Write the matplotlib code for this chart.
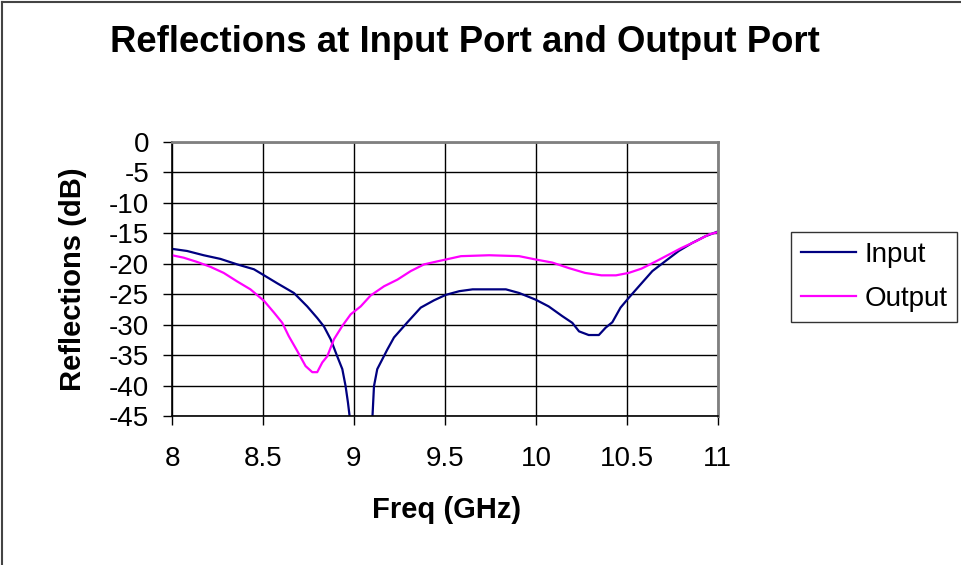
import matplotlib
matplotlib.use("Agg")
import matplotlib.pyplot as plt
from matplotlib.lines import Line2D

plt.rcParams['font.family'] = ['Liberation Sans', 'DejaVu Sans']

# Input port reflection (dB) vs frequency (GHz)
freq_in = [8.0, 8.083, 8.174, 8.266, 8.358, 8.45, 8.506, 8.578, 8.67, 8.743,
           8.798, 8.835, 8.872, 8.908, 8.936, 8.954, 8.967, 8.978, 9.04, 9.101,
           9.11, 9.128, 9.183, 9.22, 9.294, 9.367, 9.44, 9.505, 9.579, 9.652,
           9.835, 9.908, 9.999, 10.07, 10.145, 10.20, 10.237, 10.29, 10.346, 10.383,
           10.42, 10.465, 10.51, 10.566, 10.64, 10.71, 10.785, 10.858, 10.93, 11.0]
s11 = [-17.55, -17.9, -18.6, -19.2, -20.1, -20.9, -21.9, -23.2, -24.8, -27.0,
       -28.9, -30.3, -32.4, -35.2, -37.3, -40.1, -42.8, -45.5, -60.0, -45.5,
       -40.1, -37.3, -34.1, -32.1, -29.6, -27.2, -26.0, -25.1, -24.5, -24.2,
       -24.2, -24.8, -25.9, -27.0, -28.6, -29.7, -31.1, -31.7, -31.7, -30.5,
       -29.6, -27.2, -25.6, -23.7, -21.2, -19.6, -17.9, -16.6, -15.5, -14.7]

# Output port reflection (dB) vs frequency (GHz)
freq_out = [8.0, 8.064, 8.138, 8.211, 8.284, 8.358, 8.431, 8.506, 8.56, 8.606,
            8.642, 8.688, 8.734, 8.771, 8.798, 8.826, 8.853, 8.89, 8.936, 8.982,
            9.037, 9.092, 9.165, 9.239, 9.312, 9.385, 9.459, 9.505, 9.588, 9.743,
            9.908, 9.999, 10.09, 10.18, 10.27, 10.36, 10.44, 10.51, 10.58, 10.66,
            10.73, 10.80, 10.88, 10.95, 11.0]
s22 = [-18.6, -19.0, -19.7, -20.5, -21.5, -22.9, -24.2, -26.1, -28.0, -29.7,
       -31.9, -34.3, -36.8, -37.8, -37.8, -36.2, -35.2, -32.4, -30.2, -28.3,
       -27.0, -25.2, -23.7, -22.6, -21.2, -20.1, -19.6, -19.3, -18.75, -18.6,
       -18.75, -19.3, -19.8, -20.7, -21.5, -21.9, -21.9, -21.5, -20.8, -19.6,
       -18.5, -17.4, -16.3, -15.2, -14.8]

x_ticks = [8, 8.5, 9, 9.5, 10, 10.5, 11]
x_labels = ['8', '8.5', '9', '9.5', '10', '10.5', '11']
y_ticks = [0, -5, -10, -15, -20, -25, -30, -35, -40, -45]
y_labels = ['0', '-5', '-10', '-15', '-20', '-25', '-30', '-35', '-40', '-45']

fig = plt.figure(figsize=(9.61, 5.65), dpi=100)
ax = fig.add_axes([0.179, 0.2637, 0.568, 0.485])

ax.plot(freq_in, s11, color='#000080', lw=1.6, label='Input')
ax.plot(freq_out, s22, color='#FF00FF', lw=1.6, label='Output')

ax.set_xlim(8, 11)
ax.set_ylim(-45, 0)
ax.set_xticks(x_ticks)
ax.set_xticklabels(x_labels)
ax.set_yticks(y_ticks)
ax.set_yticklabels(y_labels)
ax.tick_params(labelsize=20, length=6.5, width=1, direction='out')
ax.tick_params(axis='x', pad=15)
ax.tick_params(axis='y', pad=10)
ax.grid(True, color='black', lw=1)

for s in ['top', 'right']:
    ax.spines[s].set_color('#808080')
    ax.spines[s].set_linewidth(2)
for s in ['left', 'bottom']:
    ax.spines[s].set_color('black')
    ax.spines[s].set_linewidth(1.2)

# axis titles
fig.text(447 / 961, 1 - 510 / 565, 'Freq (GHz)', fontsize=21, fontweight='bold',
         ha='center', va='center')
fig.text(73 / 961, 1 - 279 / 565, 'Reflections (dB)', fontsize=21, fontweight='bold',
         ha='center', va='center', rotation=90)

fig.text(110 / 961, 1 - 42 / 565, 'Reflections at Input Port and Output Port',
         fontsize=26.3, fontweight='bold', va='center', ha='left')

leg = ax.legend(loc='upper left', bbox_to_anchor=(791 / 961, 1 - 232 / 565),
                bbox_transform=fig.transFigure, fontsize=20,
                frameon=True, fancybox=False, handlelength=2.0, handletextpad=0.3,
                borderpad=0.35, borderaxespad=0, labelspacing=0.65)
leg.get_frame().set_edgecolor('black')
leg.get_frame().set_linewidth(1)

# outer chart frame (left and top)
fig.add_artist(Line2D([0.002, 0.002], [0, 0.997], color='#444444', lw=1.5))
fig.add_artist(Line2D([0.002, 1.0], [0.997, 0.997], color='#444444', lw=1.5))

fig.savefig('out.png', dpi=100)
